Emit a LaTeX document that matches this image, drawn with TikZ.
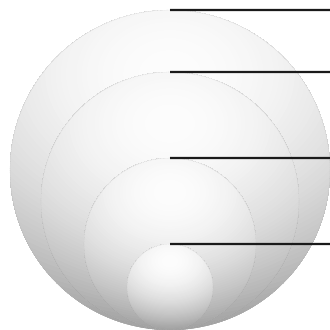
\documentclass[tikz,border=0pt]{standalone}
\usepackage{tikz}
\usepackage{xcolor}
\usetikzlibrary{positioning,calc}
\definecolor{rimgray}{HTML}{9A9A9A}
\definecolor{leadblack}{HTML}{1A1A1A}

\begin{document}
\begin{tikzpicture}[x=0.1cm,y=0.1cm,
  ring/.style={circle,inner sep=0pt,minimum size=2*#1cm,draw=rimgray!70,densely dashed,line width=0.3pt,
    path picture={
      \coordinate (lit) at ($(path picture bounding box.north)!0.2!(path picture bounding box.south)$);
      \foreach \i in {0,...,65}{
        \pgfmathsetmacro\rr{1.65-\i*0.025}
        \pgfmathsetmacro\gg{1+14*\rr*\rr}
        \fill[black!\gg] (lit) ellipse ({1.3*\rr*#1cm} and {\rr*#1cm});
      }}},
  lead/.style={draw=leadblack,line width=6pt}]
  \useasboundingbox (0,0) rectangle (330,330);
  \node[ring=16] (c1) at (170,160) {};
  \node[ring=12.9] (c2) at (170,129) {};
  \node[ring=8.6] (c3) at (170,86) {};
  \node[ring=4.3] (c4) at (170,43) {};
  \coordinate (e1) at (330,320);
  \coordinate (e2) at (330,258);
  \coordinate (e3) at (330,172);
  \coordinate (e4) at (330,86);
  \draw[lead] (c1.north) -- (e1);
  \draw[lead] (c2.north) -- (e2);
  \draw[lead] (c3.north) -- (e3);
  \draw[lead] (c4.north) -- (e4);
\end{tikzpicture}
\end{document}
